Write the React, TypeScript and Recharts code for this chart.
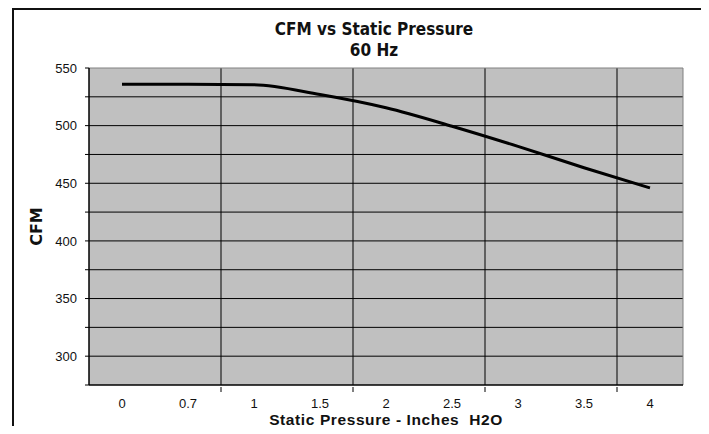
import { LineChart, Line, XAxis, YAxis, CartesianGrid } from 'recharts'

const pressures = ['0', '0.7', '1', '1.5', '2', '2.5', '3', '3.5', '4']
const cfmValues = [536, 536, 535.5, 527, 515.5, 499.5, 482, 463.5, 446]
const yDomain = [275, 550]
const yTicks = [275, 300, 325, 350, 375, 400, 425, 450, 475, 500, 525, 550]
const gridTicks = [300, 325, 350, 375, 400, 425, 450, 475, 500, 525]
// vertical gridlines sit on the left edge of these categories
const boundaryCats = ['1', '2', '3', '4']

const data = pressures.map((p, i) => ({ pressure: p, cfm: cfmValues[i] }))

const heavy = "'DejaVu Sans', sans-serif"
const plain = "'Liberation Sans', Arial, sans-serif"

function hLines({ yAxis, offset }: any) {
  const s = yAxis && yAxis.scale
  if (typeof s === 'function') return gridTicks.map((t) => s(t))
  const [lo, hi] = yDomain
  return gridTicks.map((t) => offset.top + (offset.height * (hi - t)) / (hi - lo))
}

function vLines({ offset }: any) {
  const band = offset.width / pressures.length
  return boundaryCats.map((c) => offset.left + band * pressures.indexOf(c))
}

function PressureTick(props: any) {
  const { x, y, payload } = props
  const half = payload.offset || 0
  const edge = boundaryCats.includes(payload.value)
  return (
    <g>
      {edge && <line x1={x - half} x2={x - half} y1={y - 6} y2={y - 1} stroke="#000" />}
      <text x={x} y={y + 15} textAnchor="middle" fill="#111" fontSize={13} fontFamily={plain}>
        {payload.value}
      </text>
    </g>
  )
}

export default function App() {
  return (
    <div style={{ position: 'relative', width: 709, height: 434, margin: -8, overflow: 'hidden', background: '#fff' }}>
      <div
        style={{
          position: 'absolute', left: 12, top: 8, width: 696, height: 450,
          border: '2.5px solid #111', boxSizing: 'border-box',
        }}
      />
      <div
        style={{
          position: 'absolute', left: 0, width: 748, top: 19, textAlign: 'center',
          fontFamily: heavy, fontWeight: 'bold', fontSize: 17, lineHeight: '21px', color: '#111',
          transform: 'scaleX(0.9)',
        }}
      >
        CFM vs Static Pressure
        <br />
        60 Hz
      </div>
      <LineChart
        width={709}
        height={434}
        data={data}
        margin={{ top: 68, right: 26, bottom: 0, left: -17 }}
        style={{ position: 'absolute', left: 0, top: 0 }}
      >
        <XAxis
          dataKey="pressure"
          scale="band"
          axisLine={{ stroke: '#000', strokeWidth: 1.5 }}
          tickLine={false}
          tickSize={6}
          height={49}
          tick={PressureTick}
          interval={0}
          label={{
            value: 'Static Pressure - Inches \u00a0H2O',
            position: 'insideBottom',
            offset: 9,
            fill: '#111',
            fontSize: 15.5,
            fontWeight: 'bold',
            fontFamily: plain,
            letterSpacing: 0.6,
          }}
        />
        <YAxis
          domain={yDomain}
          ticks={yTicks}
          interval={0}
          width={106}
          axisLine={{ stroke: '#000', strokeWidth: 1.5 }}
          tickLine={{ stroke: '#000' }}
          tickSize={4}
          tickMargin={8}
          tickFormatter={(v: number) => (v % 50 === 0 ? String(v) : '')}
          tick={{ fill: '#111', fontSize: 13, fontFamily: plain }}
          label={{
            value: 'CFM',
            angle: -90,
            position: 'center',
            fill: '#111',
            fontSize: 16,
            fontWeight: 'bold',
            fontFamily: heavy,
          }}
        />
        <CartesianGrid
          fill="#c0c0c0"
          fillOpacity={1}
          stroke="#000"
          horizontalCoordinatesGenerator={hLines}
          verticalCoordinatesGenerator={vLines}
        />
        <CartesianGrid
          stroke="#808080"
          horizontalCoordinatesGenerator={({ offset }: any) => [offset.top]}
          verticalCoordinatesGenerator={({ offset }: any) => [offset.left + offset.width]}
        />
        <Line
          type="monotone"
          dataKey="cfm"
          stroke="#000"
          strokeWidth={3}
          dot={false}
          isAnimationActive={false}
        />
      </LineChart>
    </div>
  )
}
